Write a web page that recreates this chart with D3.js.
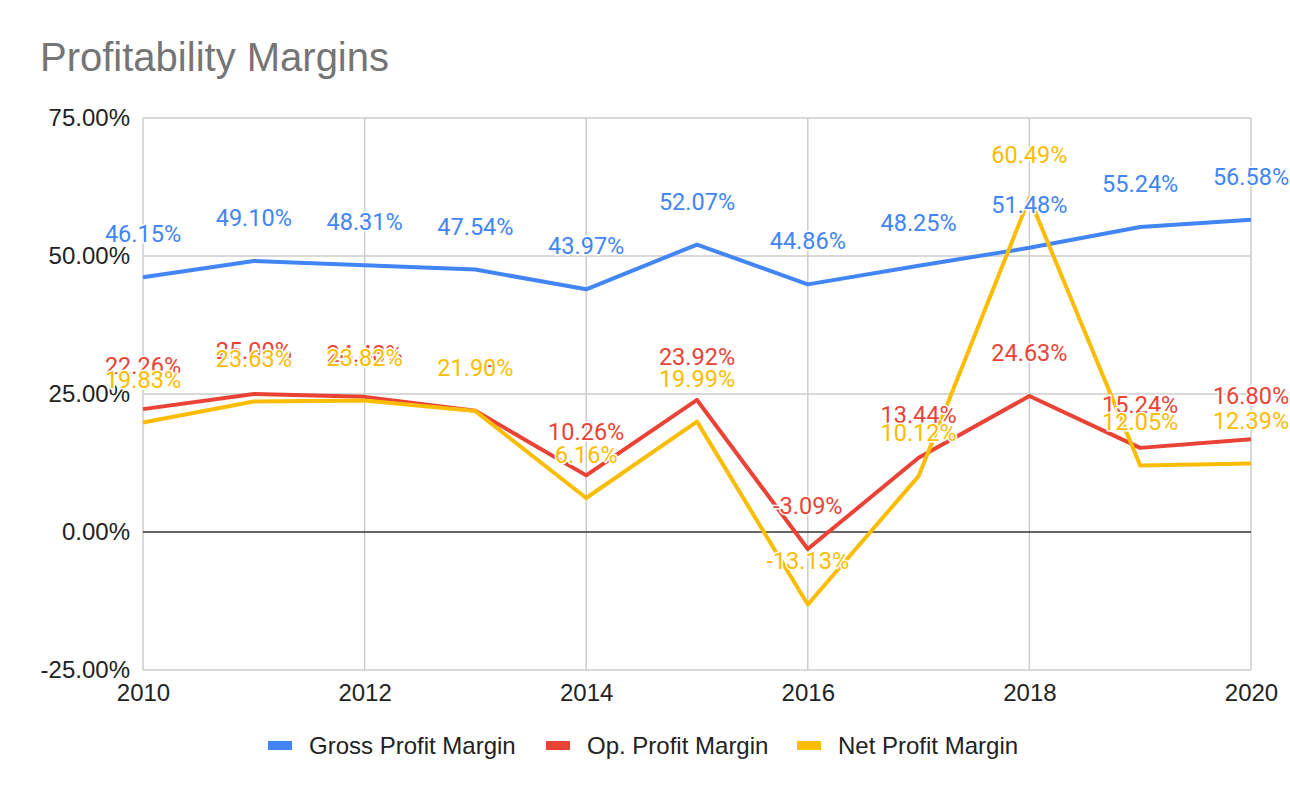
<!DOCTYPE html>
<html>
<head>
<meta charset="utf-8">
<script src="https://cdn.jsdelivr.net/npm/d3@7"></script>
<style>
  body { margin: 0; background: #fff; }
  svg { display: block; }
</style>
</head>
<body>
<svg id="chart"></svg>
<script>
// years on the x axis
var years = [2010, 2011, 2012, 2013, 2014, 2015, 2016, 2017, 2018, 2019, 2020];
// margins in percent
var grossMargin = [46.15, 49.10, 48.31, 47.54, 43.97, 52.07, 44.86, 48.25, 51.48, 55.24, 56.58];
var opMargin = [22.26, 25.00, 24.48, 21.95, 10.26, 23.92, -3.09, 13.44, 24.63, 15.24, 16.80];
var netMargin = [19.83, 23.63, 23.82, 21.90, 6.16, 19.99, -13.13, 10.12, 60.49, 12.05, 12.39];
var seriesNames = ["Gross Profit Margin", "Op. Profit Margin", "Net Profit Margin"];
var yTicks = [-25, 0, 25, 50, 75];
var xTicks = [2010, 2012, 2014, 2016, 2018, 2020];

var width = 1290, height = 798;
var colors = ["#4285f4", "#ea4335", "#fbbc04"];

var svg = d3.select("#chart").attr("width", width).attr("height", height);

var x = d3.scaleLinear().domain([2010, 2020]).range([143, 1251]);
var y = d3.scaleLinear().domain([-25, 75]).range([670, 118]);

// title
svg.append("text")
  .attr("x", 40).attr("y", 71)
  .attr("font-family", "Liberation Sans, Arial, sans-serif")
  .attr("font-size", 40)
  .attr("fill", "#757575")
  .text("Profitability Margins");

// gridlines
var grid = svg.append("g");
grid.selectAll(".hg")
  .data(yTicks.filter(d => d != 0))
  .enter().append("line")
  .attr("x1", x(2010)).attr("x2", x(2020))
  .attr("y1", d => y(d)).attr("y2", d => y(d))
  .attr("stroke", "#cccccc").attr("stroke-width", 1.5);
grid.selectAll(".vg")
  .data(xTicks)
  .enter().append("line")
  .attr("x1", d => x(d)).attr("x2", d => x(d))
  .attr("y1", y(75)).attr("y2", y(-25))
  .attr("stroke", "#cccccc").attr("stroke-width", 1.5);
grid.append("line")
  .attr("x1", x(2010)).attr("x2", x(2020))
  .attr("y1", y(0)).attr("y2", y(0))
  .attr("stroke", "#333333").attr("stroke-width", 1.5);

// axes
var yAxis = svg.append("g")
  .attr("transform", "translate(" + x(2010) + ",0)")
  .call(d3.axisLeft(y).tickValues(yTicks).tickSize(0).tickPadding(13)
    .tickFormat(d => d.toFixed(2) + "%"));
var xAxis = svg.append("g")
  .attr("transform", "translate(0," + y(-25) + ")")
  .call(d3.axisBottom(x).tickValues(xTicks).tickSize(0).tickPadding(14)
    .tickFormat(d3.format("d")));
[yAxis, xAxis].forEach(function(a) {
  a.select(".domain").remove();
  a.selectAll("text")
    .attr("font-family", "Liberation Sans, Arial, sans-serif")
    .attr("font-size", 24)
    .attr("fill", "#222");
});

// lines
var allSeries = [grossMargin, opMargin, netMargin];
var line = d3.line().x((d, i) => x(years[i])).y(d => y(d));

svg.selectAll(".series")
  .data(allSeries)
  .enter().append("path")
  .attr("d", d => line(d))
  .attr("fill", "none")
  .attr("stroke", (d, i) => colors[i])
  .attr("stroke-width", 4)
  .attr("stroke-linejoin", "round");

// data labels
allSeries.forEach(function(s, k) {
  svg.append("g").selectAll("text")
    .data(s)
    .enter().append("text")
    .attr("x", (d, i) => x(years[i]))
    .attr("y", d => y(d) - 35)
    .attr("text-anchor", "middle")
    .attr("font-family", "Roboto, sans-serif")
    .attr("font-size", 23.5)
    .attr("fill", colors[k])
    .attr("stroke", "#fff")
    .attr("stroke-width", 3)
    .attr("paint-order", "stroke")
    .text(d => d.toFixed(2) + "%");
});

// legend
var legendX = [268, 546, 797];
var legend = svg.append("g");
seriesNames.forEach(function(name, i) {
  legend.append("rect")
    .attr("x", legendX[i]).attr("y", 741)
    .attr("width", 24).attr("height", 9)
    .attr("fill", colors[i]);
  legend.append("text")
    .attr("x", legendX[i] + 41).attr("y", 754)
    .attr("font-family", "Liberation Sans, Arial, sans-serif")
    .attr("font-size", 24)
    .attr("fill", "#222")
    .text(name);
});
</script>
</body>
</html>
